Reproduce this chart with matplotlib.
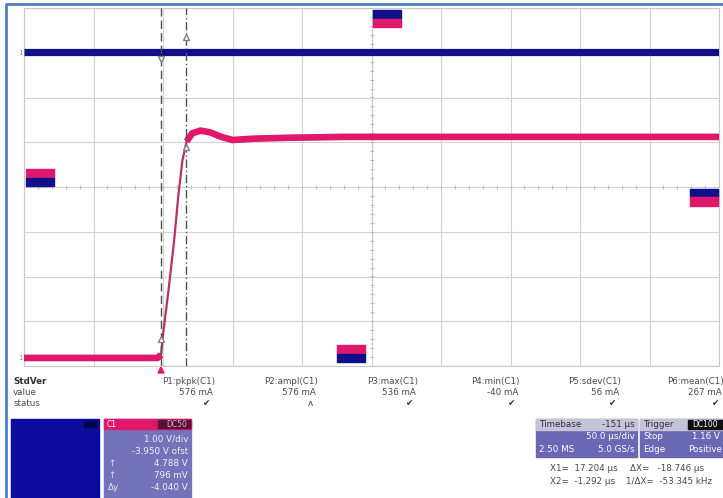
import numpy as np
import matplotlib
matplotlib.use("Agg")
import matplotlib.pyplot as plt
from matplotlib.patches import Rectangle, Polygon

# --- trace data (time in us, level in divisions) ---
pink_t = [0, 96, 98.6, 100, 104, 108, 111, 114, 117, 121, 127, 134, 142, 150, 165, 190, 230, 300, 400, 500]
pink_y = [-3.82, -3.82, -3.75, -3.3, -2.3, -1.2, -0.2, 0.6, 1.02, 1.2, 1.26, 1.22, 1.12, 1.05, 1.08, 1.1, 1.12, 1.12, 1.12, 1.12]
blue_t = [0, 500]
blue_y = [3.02, 3.02]

cursor1 = 98.6   # X2 cursor (dashed)
cursor2 = 116.5  # X1 cursor (dash-dot)

meas_names = ["P1:pkpk(C1)", "P2:ampl(C1)", "P3:max(C1)", "P4:min(C1)", "P5:sdev(C1)", "P6:mean(C1)"]
meas_values = ["576 mA", "576 mA", "536 mA", "-40 mA", "56 mA", "267 mA"]
meas_status = ["\u2714", "\u028c", "\u2714", "\u2714", "\u2714", "\u2714"]

ch1_lines = ["1.00 V/div", "-3.950 V ofst", "4.788 V", "796 mV", "-4.040 V"]
ch1_tags = ["", "", "\u2191", "\u2191", "\u0394y"]

PINK = "#e0186c"
NAVY = "#10108a"
TXT = "#4a4a4a"

W, H = 723, 498
fig = plt.figure(figsize=(W / 100, H / 100), dpi=100)

# overlay axes in pixel units for the readout panels
ov = fig.add_axes([0, 0, 1, 1])
ov.set_xlim(0, W)
ov.set_ylim(H, 0)
ov.axis("off")

# window frame
ov.plot([6, 6, W], [H, 4, 4], color="#4f7fc4", lw=2, solid_capstyle="butt")

# main scope grid
ax = fig.add_axes([24 / W, (H - 366) / H, 695 / W, 358 / H])
ax.set_xlim(0, 500)
ax.set_ylim(-4, 4)
ax.set_xticks(np.arange(0, 501, 50))
ax.set_yticks(np.arange(-4, 5, 1))
ax.tick_params(length=0, labelbottom=False, labelleft=False)
ax.grid(True, color="#d2d2d2", lw=0.8)
for s in ax.spines.values():
    s.set_color("#c8c8c8")
    s.set_linewidth(0.8)
ax.set_facecolor("white")

# center-line minor ticks
mt = np.arange(0, 500, 10)
ax.plot(mt, np.zeros_like(mt), ls="none", marker="|", ms=3, color="#c0c0c0", mew=0.8)
mv = np.arange(-4, 4, 0.2)
ax.plot(np.full_like(mv, 250), mv, ls="none", marker="_", ms=3, color="#c0c0c0", mew=0.8)
ax.plot([250, 250], [-3.5, 3.6], color="#b0b0b0", lw=0.8, ls=(0, (1, 2)))

# traces
ax.plot(blue_t, blue_y, color=NAVY, lw=5.2, solid_capstyle="butt", zorder=5)
ax.plot(pink_t[:3], pink_y[:3], color=PINK, lw=4.8, solid_capstyle="butt", zorder=4)
ax.plot(pink_t[2:9], pink_y[2:9], color="#b8306a", lw=1.6, zorder=4)
ax.plot(pink_t[8:], pink_y[8:], color=PINK, lw=4.8, solid_capstyle="butt", zorder=4)

# cursors
ax.axvline(cursor1, color="#505050", lw=1, ls=(0, (6, 3)), zorder=7)
ax.axvline(cursor2, color="#505050", lw=1, ls=(0, (6, 2, 1, 2)), zorder=7)
ax.plot([cursor1], [2.85], ls="none", marker="v", ms=5, mfc="white", mec="#808080", zorder=8)
ax.plot([cursor2], [3.35], ls="none", marker="^", ms=5, mfc="white", mec="#808080", zorder=8)
ax.plot([cursor2, cursor1], [0.9, -3.4], ls="none", marker="^", ms=5,
        mfc="white", mec="#808080", zorder=8)

# channel offset markers
def marker_box(x0, y0, top, bottom):
    ax.add_patch(Rectangle((x0, y0 + 0.19), 20, 0.19, color=top, zorder=9, clip_on=False))
    ax.add_patch(Rectangle((x0, y0), 20, 0.19, color=bottom, zorder=9, clip_on=False))

marker_box(1.5, 0.02, PINK, NAVY)
marker_box(251, 3.57, NAVY, PINK)
marker_box(225, -3.92, PINK, NAVY)
marker_box(479, -0.42, NAVY, PINK)

# small ground flags at left
ov.text(20, 53, "1", fontsize=5, color="#909090", ha="center", va="center")
ov.text(20, 358, "1", fontsize=5, color="#909090", ha="center", va="center")
# trigger point indicator
ov.add_patch(Polygon([[158, 373], [164, 373], [161, 367]], color=PINK))

# measurement table
fs = 6.3
ov.text(13, 381, "StdVer", fontsize=fs, color="#303030", va="center", fontweight="bold")
ov.text(13, 392, "value", fontsize=fs, color=TXT, va="center")
ov.text(13, 403, "status", fontsize=fs, color=TXT, va="center")
col_right = [215, 318, 418, 520, 621, 724]
for xr, nm, val, st in zip(col_right, meas_names, meas_values, meas_status):
    ov.text(xr, 381, nm, fontsize=fs, color=TXT, ha="right", va="center")
    ov.text(xr - 2, 392, val, fontsize=fs, color=TXT, ha="right", va="center")
    ov.text(xr - 5, 403, st, fontsize=fs, color="#303030", ha="right", va="center")

# channel 2 descriptor (blue)
ov.add_patch(Rectangle((11, 419), 88, 80, color="#0b0ba0"))
ov.add_patch(Rectangle((84, 421), 13, 6, color="#05054a"))

# channel 1 descriptor
ov.add_patch(Rectangle((104, 419), 87, 80, color="#7472b8"))
ov.add_patch(Rectangle((104, 419), 87, 10, color=PINK))
ov.add_patch(Rectangle((158, 420), 32, 8, color="#5a1036"))
ov.text(107, 424, "C1", fontsize=5.5, color="white", va="center")
ov.text(187, 424, "DC50", fontsize=5.5, color="#e0b0c8", ha="right", va="center")
for i, (ln, tg) in enumerate(zip(ch1_lines, ch1_tags)):
    yy = 439 + i * 12
    ov.text(188, yy, ln, fontsize=fs, color="#f0f0ff", ha="right", va="center")
    if tg:
        ov.text(108, yy, tg, fontsize=fs, color="#e0e0f0", va="center")

# timebase
ov.add_patch(Rectangle((536, 419), 101, 38, color="#6a68b4"))
ov.add_patch(Rectangle((536, 419), 101, 11, color="#c4c4d6"))
ov.text(539, 424.5, "Timebase", fontsize=fs, color="#303040", va="center")
ov.text(635, 424.5, "-151 \u00b5s", fontsize=fs, color="#303040", ha="right", va="center")
ov.text(635, 436, "50.0 \u00b5s/div", fontsize=fs, color="white", ha="right", va="center")
ov.text(539, 449, "2.50 MS", fontsize=fs, color="white", va="center")
ov.text(635, 449, "5.0 GS/s", fontsize=fs, color="white", ha="right", va="center")

# trigger
ov.add_patch(Rectangle((640, 419), 83, 38, color="#6a68b4"))
ov.add_patch(Rectangle((640, 419), 83, 11, color="#c4c4d6"))
ov.add_patch(Rectangle((688, 420), 35, 9, color="#101010"))
ov.text(643, 424.5, "Trigger", fontsize=fs, color="#303040", va="center")
ov.text(692, 424.5, "DC100", fontsize=5.5, color="white", va="center")
ov.text(643, 436, "Stop", fontsize=fs, color="white", va="center")
ov.text(720, 436, "1.16 V", fontsize=fs, color="white", ha="right", va="center")
ov.text(643, 449, "Edge", fontsize=fs, color="white", va="center")
ov.text(722, 449, "Positive", fontsize=fs, color="white", ha="right", va="center")

# cursor readouts
ov.text(550, 468, "X1=  17.204 \u00b5s", fontsize=fs, color=TXT, va="center")
ov.text(630, 468, "\u0394X=   -18.746 \u00b5s", fontsize=fs, color=TXT, va="center")
ov.text(550, 481, "X2=  -1.292 \u00b5s", fontsize=fs, color=TXT, va="center")
ov.text(626, 481, "1/\u0394X=  -53.345 kHz", fontsize=fs, color=TXT, va="center")

fig.savefig("out.png", dpi=100)
